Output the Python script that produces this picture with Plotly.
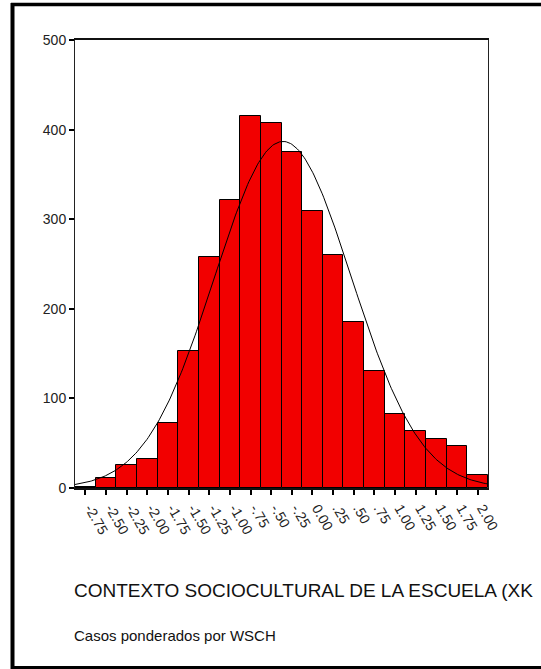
import numpy as np
import plotly.graph_objects as go

# Histogram bins: centres and labels of the 0.25-wide classes
bin_centers = [-2.75, -2.50, -2.25, -2.00, -1.75, -1.50, -1.25, -1.00, -0.75, -0.50,
               -0.25, 0.00, 0.25, 0.50, 0.75, 1.00, 1.25, 1.50, 1.75, 2.00]
bin_labels = ["-2.75", "-2.50", "-2.25", "-2.00", "-1.75", "-1.50", "-1.25", "-1.00",
              "-.75", "-.50", "-.25", "0.00", ".25", ".50", ".75", "1.00", "1.25",
              "1.50", "1.75", "2.00"]
# Weighted case counts per bin
counts = [1.5, 11, 26, 32, 72.5, 153, 258, 321, 415.5, 407,
          375, 309.5, 260, 185, 131, 83, 64, 55, 47, 14.5]
y_ticks = [0, 100, 200, 300, 400, 500]

bin_width = 0.25
x_lo = bin_centers[0] - bin_width / 2
x_hi = bin_centers[-1] + bin_width / 2

# Normal curve fitted to the weighted distribution
c = np.array(bin_centers)
w = np.array(counts)
n_total = w.sum()
mean = (c * w).sum() / n_total
sd = np.sqrt((w * (c - mean) ** 2).sum() / n_total)
xs = np.linspace(x_lo, x_hi, 300)
ys = n_total * bin_width / (sd * np.sqrt(2 * np.pi)) * np.exp(-0.5 * ((xs - mean) / sd) ** 2)

W, H = 541, 669
ML, MR, MT, MB = 75, 53, 40, 181
pw, ph = W - ML - MR, H - MT - MB


def px_x(p):
    return (p - ML) / pw


def px_y(p):
    return (H - MB - p) / ph


FONT = "Liberation Sans, Arial, sans-serif"

fig = go.Figure()
fig.add_trace(go.Bar(
    x=bin_centers, y=counts, width=bin_width,
    marker=dict(color="#f20000", line=dict(color="#000000", width=1)),
    hoverinfo="x+y", showlegend=False,
))
fig.add_trace(go.Scatter(
    x=xs, y=ys, mode="lines",
    line=dict(color="#000000", width=1),
    hoverinfo="skip", showlegend=False,
))

fig.update_layout(
    width=W, height=H,
    margin=dict(l=ML, r=MR, t=MT, b=MB, pad=0),
    paper_bgcolor="white", plot_bgcolor="white",
    bargap=0,
    font=dict(family=FONT, color="#222222", size=14),
    xaxis=dict(
        range=[x_lo, x_hi], tickmode="array", tickvals=bin_centers, ticktext=bin_labels,
        tickangle=60, ticks="outside", ticklen=5, tickwidth=2, tickcolor="#000000",
        ticklabelshift=5,
        showgrid=False, zeroline=False, showline=True, linecolor="#111111", linewidth=1.5,
        mirror=True, tickfont=dict(size=14, color="#222222"),
    ),
    yaxis=dict(
        range=[0, 500], tickmode="array", tickvals=y_ticks,
        ticks="outside", ticklen=5, tickwidth=2, tickcolor="#000000",
        showgrid=False, zeroline=False, showline=True, linecolor="#222222", linewidth=1,
        mirror=True, tickfont=dict(size=14, color="#222222"),
    ),
    annotations=[
        dict(text="CONTEXTO SOCIOCULTURAL DE LA ESCUELA (XK", xref="paper", yref="paper",
             x=px_x(72), y=px_y(603), xanchor="left", yanchor="bottom", showarrow=False,
             font=dict(size=19, color="#111111", family=FONT)),
        dict(text="Casos ponderados por WSCH", xref="paper", yref="paper",
             x=px_x(72), y=px_y(646), xanchor="left", yanchor="bottom", showarrow=False,
             font=dict(size=15, color="#111111", family=FONT)),
    ],
    shapes=[
        dict(type="line", xref="paper", yref="paper", x0=px_x(12.5), x1=px_x(12.5),
             y0=px_y(3), y1=px_y(669), line=dict(color="#000000", width=4)),
        dict(type="line", xref="paper", yref="paper", x0=px_x(11), x1=px_x(560),
             y0=px_y(4.5), y1=px_y(4.5), line=dict(color="#000000", width=3.5)),
        dict(type="line", xref="paper", yref="paper", x0=px_x(11), x1=px_x(560),
             y0=px_y(667.5), y1=px_y(667.5), line=dict(color="#000000", width=3)),
    ],
)

fig.write_html("out.html")
